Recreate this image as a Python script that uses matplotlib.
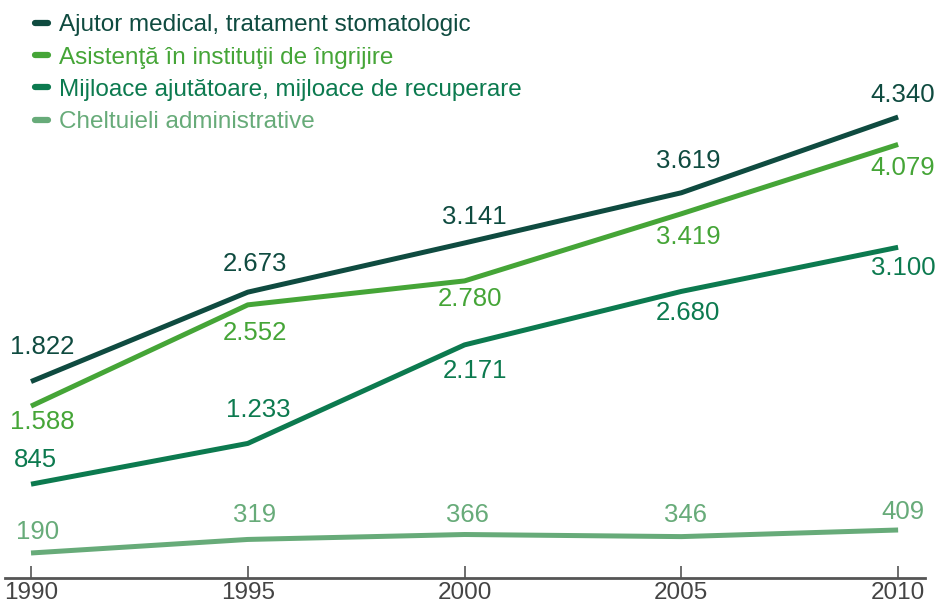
import matplotlib.pyplot as plt

plt.rcParams['font.family'] = ['Liberation Sans', 'DejaVu Sans']

years = [1990, 1995, 2000, 2005, 2010]
ajutor = [1822, 2673, 3141, 3619, 4340]
asistenta = [1588, 2552, 2780, 3419, 4079]
mijloace = [845, 1233, 2171, 2680, 3100]
cheltuieli = [190, 319, 366, 346, 409]

names = ['Ajutor medical, tratament stomatologic',
         'Asistenţă în instituţii de îngrijire',
         'Mijloace ajutătoare, mijloace de recuperare',
         'Cheltuieli administrative']
colors = ['#0f4b40', '#45a537', '#0c7a4f', '#67ab79']

# label offsets in pixels (dx, dy) for each series
offsets = [
    [(11, 35), (7, 28), (10, 26), (7, 32), (5, 22)],
    [(11, -16), (7, -28), (5, -18), (7, -23), (5, -24)],
    [(4, 24), (10, 33), (10, -26), (7, -22), (5, -21)],
    [(7, 21), (7, 24), (3, 20), (4, 22), (5, 18)],
]

fig = plt.figure(figsize=(9.42, 6.05), dpi=100)
ax = fig.add_axes([5 / 942, 27 / 605, 920 / 942, 578 / 605])

series = [ajutor, asistenta, mijloace, cheltuieli]
for vals, name, col, offs in zip(series, names, colors, offsets):
    ax.plot(years, vals, color=col, lw=3.6, label=name, solid_capstyle='butt')
    for x, v, (dx, dy) in zip(years, vals, offs):
        ax.annotate(f'{v:,}'.replace(',', '.'), (x, v), xytext=(dx, dy),
                    textcoords='offset pixels', ha='center', va='center',
                    fontsize=18.5, color=col)

ax.set_xlim(1989.4, 2010.62)
ax.set_ylim(-48, 5454)
ax.set_xticks(years)
ax.set_xticklabels([str(y) for y in years], fontsize=17.5, color='#444444')
ax.set_yticks([])
for s in ['top', 'right', 'left']:
    ax.spines[s].set_visible(False)
ax.spines['bottom'].set_color('#555555')
ax.spines['bottom'].set_linewidth(2)
ax.tick_params(axis='x', direction='in', length=9, width=1.2, color='#555555', pad=3)

leg = ax.legend(loc='upper left', bbox_to_anchor=(0.0215, 0.992), frameon=False,
                fontsize=17.5, handlelength=0.55, handletextpad=0.45, labelspacing=0.42,
                borderaxespad=0)
for txt, col in zip(leg.get_texts(), colors):
    txt.set_color(col)
for h in leg.get_lines():
    h.set_linewidth(4.5)
    h.set_solid_capstyle('round')

fig.savefig('out.png', dpi=100, facecolor='white')
